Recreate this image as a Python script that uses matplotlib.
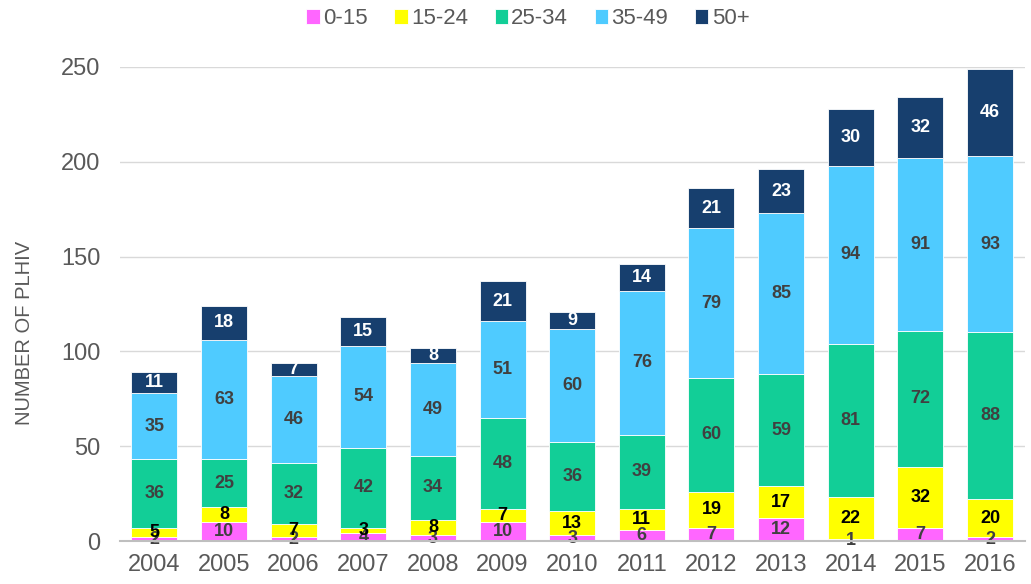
import matplotlib
matplotlib.use("Agg")
import matplotlib.pyplot as plt
import numpy as np

years = ["2004", "2005", "2006", "2007", "2008", "2009", "2010", "2011", "2012", "2013", "2014", "2015", "2016"]
age_0_15 = [2, 10, 2, 4, 3, 10, 3, 6, 7, 12, 1, 7, 2]
age_15_24 = [5, 8, 7, 3, 8, 7, 13, 11, 19, 17, 22, 32, 20]
age_25_34 = [36, 25, 32, 42, 34, 48, 36, 39, 60, 59, 81, 72, 88]
age_35_49 = [35, 63, 46, 54, 49, 51, 60, 76, 79, 85, 94, 91, 93]
age_50p = [11, 18, 7, 15, 8, 21, 9, 14, 21, 23, 30, 32, 46]
series_names = ["0-15", "15-24", "25-34", "35-49", "50+"]

series = [age_0_15, age_15_24, age_25_34, age_35_49, age_50p]
colors = ["#FF66FF", "#FFFF00", "#12CE97", "#4FCBFF", "#173F6E"]
label_colors = ["#404040", "#000000", "#404040", "#404040", "#FFFFFF"]

plt.rcParams['font.family'] = ['Liberation Sans', 'DejaVu Sans']

fig = plt.figure(figsize=(10.31, 5.84), dpi=100)
ax = fig.add_axes([0.116, 0.0736, 0.878, 0.8117])

x = np.arange(len(years))
bottom = np.zeros(len(years))
for vals, col, lc, name in zip(series, colors, label_colors, series_names):
    v = np.array(vals, dtype=float)
    ax.bar(x, v, bottom=bottom, width=0.66, color=col, label=name,
           edgecolor="white", linewidth=0.6, zorder=3)
    for xi, b, vi in zip(x, bottom, v):
        ax.text(xi, b + vi / 2, f"{int(vi)}", ha="center", va="center",
                fontsize=13, fontweight="bold", color=lc, zorder=4)
    bottom += v

ax.set_xlim(-0.5, 12.5)
ax.set_ylim(0, 250)
ax.set_yticks([0, 50, 100, 150, 200, 250])
ax.set_xticks(x)
ax.set_xticklabels(years)
ax.tick_params(axis="both", length=0, labelsize=17, colors="#595959")
ax.tick_params(axis="y", pad=14)
ax.tick_params(axis="x", pad=9)
ax.yaxis.grid(True, color="#D9D9D9", linewidth=1, zorder=0)
ax.set_axisbelow(True)
for s in ["top", "right", "left"]:
    ax.spines[s].set_visible(False)
ax.spines["bottom"].set_color("#BFBFBF")
ax.spines["bottom"].set_linewidth(1.5)
ax.spines["bottom"].set_zorder(5)
ax.set_ylabel("NUMBER OF PLHIV", fontsize=14.5, color="#595959", labelpad=18)
ax.yaxis.set_label_coords(-0.095, 0.44)

leg = fig.legend(loc="upper center", bbox_to_anchor=(0.512, 1.02), ncol=5, frameon=False,
                 fontsize=16, handlelength=0.6, handleheight=0.6, handletextpad=0.15,
                 columnspacing=1.2)
for t in leg.get_texts():
    t.set_color("#595959")

fig.savefig("out.png", dpi=100)
